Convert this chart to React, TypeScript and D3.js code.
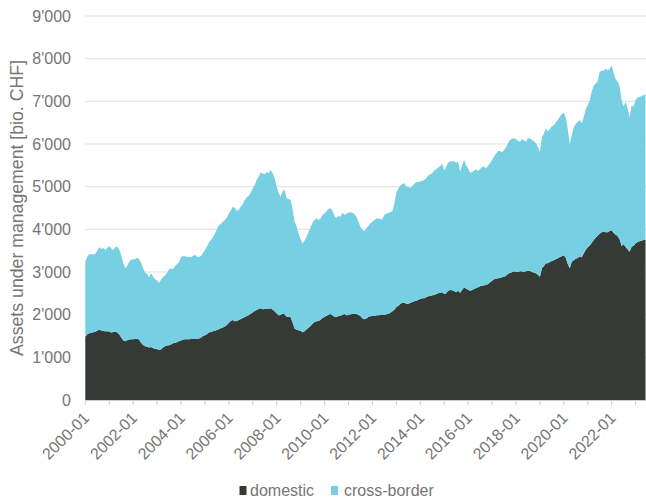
import React from "react";
import * as d3 from "d3";

// monthly values, 2000-01 .. 2023-06, bio. CHF
const domestic = [
  1480, 1540, 1565, 1575, 1590, 1600, 1625, 1650, 1630, 1615, 1610, 1610,
  1605, 1580, 1595, 1605, 1580, 1540, 1470, 1400, 1375, 1400, 1420, 1422,
  1422, 1428, 1435, 1420, 1340, 1290, 1262, 1250, 1232, 1240, 1211, 1200,
  1190, 1175, 1185, 1230, 1260, 1275, 1285, 1300, 1328, 1340, 1355, 1375,
  1395, 1420, 1422, 1422, 1422, 1428, 1430, 1430, 1430, 1440, 1460, 1500,
  1520, 1547, 1580, 1594, 1610, 1625, 1640, 1660, 1680, 1700, 1720, 1760,
  1810, 1860, 1875, 1845, 1850, 1875, 1900, 1920, 1945, 1970, 1992, 2020,
  2055, 2085, 2110, 2133, 2150, 2125, 2133, 2140, 2140, 2150, 2118, 2080,
  2030, 1985, 1992, 2020, 2010, 1953, 1953, 1938, 1813, 1672, 1649, 1633,
  1617, 1586, 1610, 1656, 1696, 1735, 1790, 1828, 1844, 1852, 1883, 1922,
  1945, 1977, 2000, 2016, 1985, 1953, 1945, 1969, 1977, 2000, 2016, 1985,
  1992, 2008, 2016, 2016, 2016, 2000, 1969, 1914, 1890, 1910, 1953, 1960,
  1969, 1977, 1985, 1985, 1992, 1992, 2000, 2008, 2024, 2047, 2078, 2117,
  2180, 2211, 2250, 2281, 2281, 2258, 2258, 2274, 2297, 2313, 2328, 2352,
  2367, 2383, 2383, 2406, 2430, 2438, 2453, 2461, 2485, 2500, 2516, 2524,
  2485, 2500, 2563, 2578, 2570, 2555, 2524, 2563, 2516, 2578, 2641, 2610,
  2586, 2563, 2578, 2602, 2625, 2641, 2664, 2680, 2688, 2696, 2720, 2758,
  2797, 2828, 2844, 2852, 2860, 2875, 2891, 2914, 2961, 2977, 2992, 3016,
  3008, 3000, 3016, 3016, 3008, 3016, 3032, 3024, 3008, 2985, 2969, 2938,
  2891, 3086, 3133, 3203, 3203, 3235, 3258, 3274, 3297, 3321, 3352, 3367,
  3391, 3328, 3188, 3086, 3243, 3274, 3313, 3336, 3360, 3344, 3438, 3524,
  3578, 3625, 3680, 3750, 3805, 3852, 3899, 3930, 3946, 3930, 3930, 3961,
  3977, 3915, 3876, 3844, 3766, 3610, 3650, 3594, 3532, 3477, 3594, 3617,
  3672, 3704, 3719, 3735, 3750, 3758,
];

const crossBorder = [
  1770, 1820, 1850, 1840, 1820, 1820, 1875, 1930, 1910, 1945, 1905, 1950,
  2005, 1970, 1920, 1975, 2020, 1990, 1930, 1820, 1715, 1740, 1820, 1868,
  1878, 1872, 1900, 1880, 1880, 1800, 1728, 1705, 1638, 1730, 1679, 1630,
  1610, 1575, 1625, 1645, 1660, 1710, 1775, 1790, 1737, 1800, 1825, 1860,
  1950, 1955, 1948, 1928, 1938, 1917, 1945, 1975, 1930, 1910, 1915, 1945,
  1995, 2048, 2110, 2156, 2200, 2280, 2360, 2435, 2445, 2480, 2505, 2514,
  2565, 2586, 2657, 2655, 2588, 2578, 2632, 2674, 2743, 2780, 2798, 2840,
  2906, 2955, 3047, 3102, 3187, 3180, 3165, 3197, 3173, 3241, 3195, 3116,
  2970, 2859, 2774, 2879, 2912, 2774, 2758, 2750, 2641, 2508, 2414, 2258,
  2149, 2086, 2125, 2173, 2242, 2312, 2367, 2391, 2414, 2367, 2367, 2422,
  2430, 2445, 2477, 2477, 2453, 2360, 2321, 2344, 2320, 2391, 2328, 2375,
  2399, 2391, 2375, 2344, 2281, 2180, 2094, 2071, 2071, 2120, 2126, 2181,
  2211, 2242, 2265, 2273, 2243, 2243, 2336, 2360, 2367, 2352, 2344, 2493,
  2680, 2750, 2766, 2774, 2805, 2742, 2742, 2695, 2719, 2750, 2782, 2750,
  2759, 2758, 2774, 2790, 2828, 2852, 2860, 2915, 2922, 2946, 2969, 3016,
  2891, 2969, 3000, 3009, 3024, 3039, 3039, 3024, 2836, 2930, 2985, 2891,
  2837, 2766, 2767, 2774, 2782, 2719, 2743, 2789, 2781, 2734, 2773, 2790,
  2829, 2883, 2930, 2985, 2977, 2931, 2961, 3006, 3055, 3117, 3133, 3117,
  3102, 3079, 3032, 3094, 3086, 3039, 3101, 3109, 3086, 3078, 3047, 3000,
  2930, 3071, 3102, 3165, 3095, 3109, 3157, 3164, 3204, 3250, 3289, 3337,
  3344, 3290, 3162, 2914, 2969, 3117, 3149, 3188, 3203, 3141, 3203, 3289,
  3337, 3407, 3547, 3618, 3618, 3610, 3781, 3790, 3766, 3837, 3790, 3797,
  3860, 3742, 3641, 3618, 3594, 3422, 3226, 3391, 3305, 3143, 3305, 3259,
  3360, 3383, 3383, 3383, 3391, 3407,
];

const seriesKeys = ["domestic", "cross-border"];
const seriesColors = ["#363a37", "#76cfe2"];
const yTicks = [0, 1000, 2000, 3000, 4000, 5000, 6000, 7000, 8000, 9000];
const yTitle = "Assets under management [bio. CHF]";

const months = d3.timeMonth.range(new Date(2000, 0, 1), new Date(2023, 6, 1));

const W = 646;
const H = 501;
const margin = { top: 16, right: 0.5, bottom: 101, left: 85.3 };
const textColor = "#757575";
const font = "'Liberation Sans', Arial, sans-serif";

const swiss = d3.formatLocale({ decimal: ".", thousands: "'", grouping: [3], currency: ["", ""] });
const fmtY = swiss.format(",");
const fmtX = d3.timeFormat("%Y-%m");

export default function App() {
  const x = d3.scaleTime()
    .domain([months[0], months[months.length - 1]])
    .range([margin.left, W - margin.right]);
  const y = d3.scaleLinear().domain([0, 9000]).range([H - margin.bottom, margin.top]);

  const rows = months.map((m, i) => ({ date: m, domestic: domestic[i], "cross-border": crossBorder[i] }));
  const stacked = d3.stack().keys(seriesKeys)(rows as any);

  const area = d3.area<any>()
    .x((d) => x(d.data.date))
    .y0((d) => y(d[0]))
    .y1((d) => y(d[1]));

  const yearTicks = d3.timeYear.range(new Date(2000, 0, 1), new Date(2023, 1, 1));
  const y0 = y(0);

  return (
    <svg width={W} height={H} style={{ position: "absolute", left: 0, top: 0, background: "#fff" }} fontFamily={font}>
      {/* grid */}
      {yTicks.filter((t) => t > 0).map((t) => (
        <line key={t} x1={margin.left} x2={W} y1={y(t)} y2={y(t)} stroke="#e0e0e0" strokeWidth={1} />
      ))}

      {/* stacked areas */}
      {stacked.map((s, i) => (
        <path key={s.key} d={area(s as any) || ""} fill={seriesColors[i]} />
      ))}

      {/* x axis */}
      <line x1={margin.left} x2={W} y1={y0 + 0.5} y2={y0 + 0.5} stroke="#cccccc" strokeWidth={1} />
      {yearTicks.map((d) => (
        <line key={+d} x1={x(d)} x2={x(d)} y1={y0} y2={y0 + 5} stroke="#cccccc" strokeWidth={1} />
      ))}
      {yearTicks.filter((d) => d.getFullYear() % 2 === 0).map((d) => (
        <text
          key={"l" + +d}
          transform={`translate(${x(d) + 5},${y0 + 19}) rotate(-45)`}
          textAnchor="end"
          fontSize={16}
          fill={textColor}
        >
          {fmtX(d)}
        </text>
      ))}

      {/* y axis labels */}
      {yTicks.map((t) => (
        <text key={"y" + t} x={71} y={y(t)} dy="0.35em" textAnchor="end" fontSize={16} fill={textColor}>
          {fmtY(t)}
        </text>
      ))}
      <text transform={`translate(23,${(margin.top + y0) / 2}) rotate(-90)`} textAnchor="middle" fontSize={17.7} fill={textColor}>
        {yTitle}
      </text>

      {/* legend */}
      <g>
        <rect x={239.5} y={486} width={7} height={9} fill={seriesColors[0]} />
        <text x={250} y={496} fontSize={16} fill={textColor}>{seriesKeys[0]}</text>
        <rect x={331} y={486} width={7} height={9} fill={seriesColors[1]} />
        <text x={344} y={496} fontSize={16} fill={textColor}>{seriesKeys[1]}</text>
      </g>
    </svg>
  );
}
